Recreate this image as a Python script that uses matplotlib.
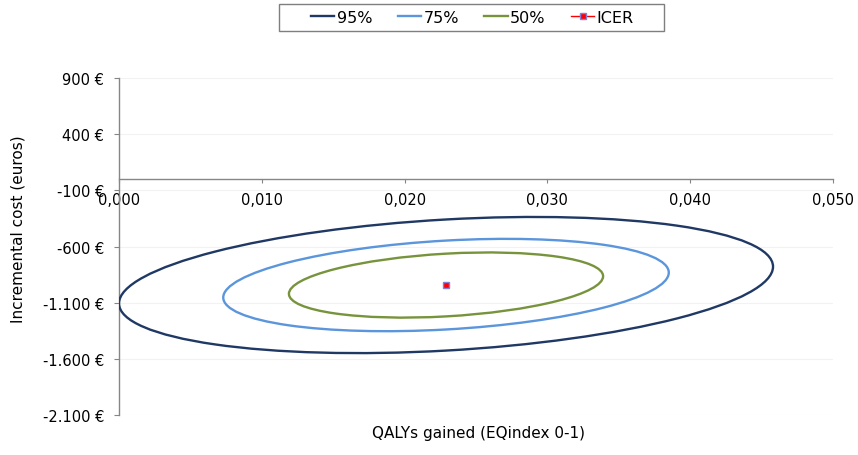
import matplotlib
matplotlib.use("Agg")
import matplotlib.pyplot as plt
import numpy as np
from matplotlib.patches import Ellipse, Rectangle
from matplotlib.lines import Line2D
from matplotlib.transforms import Affine2D

plt.rcParams['font.family'] = ['DejaVu Sans']

# ---- data ----
icer_qaly = 0.0229          # QALYs gained (point estimate)
icer_cost = -943            # incremental cost (euros)
levels = ["95%", "75%", "50%"]
half_width_qaly = [0.0229, 0.0156, 0.0110]   # half extent along QALY axis
half_height_cost = [606, 411, 290]           # half extent along cost axis
correlation = 0.27                            # QALY/cost correlation
level_colors = ["#1F3864", "#5B95DC", "#77933C"]

x_ticks = [0.0, 0.01, 0.02, 0.03, 0.04, 0.05]
x_tick_labels = ["0,000", "0,010", "0,020", "0,030", "0,040", "0,050"]
y_ticks = [900, 400, -100, -600, -1100, -1600, -2100]
y_tick_labels = ["900 €", "400 €", "-100 €", "-600 €", "-1.100 €", "-1.600 €", "-2.100 €"]

W, H = 858, 456
fig = plt.figure(figsize=(W / 100, H / 100), dpi=100)
ax = fig.add_axes([119 / W, (H - 416) / H, 714 / W, 337 / H])

ax.set_xlim(0, 0.05)
ax.set_ylim(-2100, 900)

for s in ("top", "right"):
    ax.spines[s].set_visible(False)
ax.spines["bottom"].set_position(("data", 0))
for s in ("left", "bottom"):
    ax.spines[s].set_color("#868686")
    ax.spines[s].set_linewidth(1.0)

ax.set_xticks(x_ticks)
ax.set_xticklabels(x_tick_labels)
ax.set_yticks(y_ticks)
ax.set_yticklabels(y_tick_labels)
ax.tick_params(axis="x", direction="out", length=3, width=0.8, color="#868686",
               pad=6.5, labelsize=10.5, labelcolor="black")
ax.tick_params(axis="y", direction="out", length=3.8, width=0.8, color="#868686",
               pad=7, labelsize=10.5, labelcolor="black")
ax.yaxis.grid(True, color="#f2f2f2", linewidth=0.8)
ax.set_axisbelow(True)

# confidence ellipses
handles = []
for lab, a, b, col in zip(levels, half_width_qaly, half_height_cost, level_colors):
    m = Affine2D(np.array([[a, 0.0, icer_qaly],
                           [b * correlation, b * np.sqrt(1 - correlation ** 2), icer_cost],
                           [0.0, 0.0, 1.0]]))
    e = Ellipse((0, 0), 2, 2, fill=False, edgecolor=col, linewidth=1.7,
                transform=m + ax.transData, zorder=3)
    ax.add_patch(e)
    handles.append(Line2D([], [], color=col, linewidth=1.7))

icer_line, = ax.plot([icer_qaly], [icer_cost], linestyle="-", color="red", linewidth=1,
                     marker="s", markersize=5, markerfacecolor="red",
                     markeredgecolor="#8080dd", markeredgewidth=1, zorder=5, label="ICER")
handles.append(icer_line)

ax.set_ylabel("Incremental cost (euros)", fontsize=11, rotation=90, va="center", ha="center")
ax.yaxis.set_label_coords((18.5 - 119) / 714, (416 - 229.5) / 337)
ax.set_xlabel("QALYs gained (EQindex 0-1)", fontsize=11, va="center", ha="center")
ax.xaxis.set_label_coords((479 - 119) / 714, (416 - 434) / 337)

fig.legend(handles, levels + ["ICER"], loc="center",
           bbox_to_anchor=(472.5 / W, 1 - 18.5 / H), ncol=4, frameon=False,
           fontsize=11.5, handlelength=1.45, handletextpad=0.15, columnspacing=1.6,
           borderpad=0.1)
fig.add_artist(Rectangle((279 / W, 1 - 32 / H), 385 / W, 27 / H,
                         transform=fig.transFigure, fill=False,
                         edgecolor="#7f7f7f", linewidth=1.0))

fig.savefig("out.png", dpi=100)
